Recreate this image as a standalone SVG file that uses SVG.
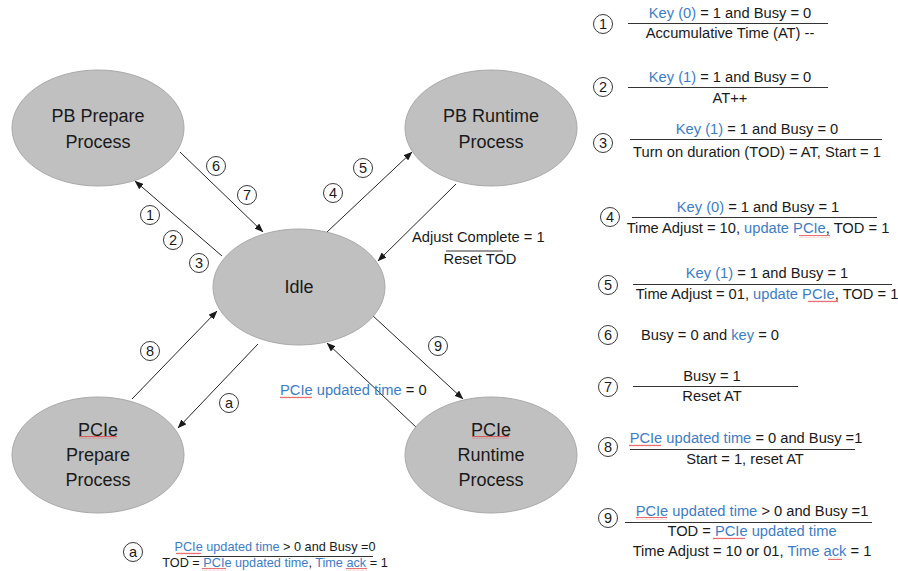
<svg xmlns="http://www.w3.org/2000/svg" width="898" height="571" viewBox="0 0 898 571">
  <defs>
    <style>
      text { font-family: "Liberation Sans", Arial, sans-serif; fill: #1a1a1a; }
      .state { fill: #c0c0c0; stroke: #a9a9a9; stroke-width: 1; }
      .sname { font-size: 18px; text-anchor: middle; }
      .lbl { font-size: 14.7px; }
      .mid { text-anchor: middle; }
      .sm { font-size: 12.7px; }
      .blue { fill: #3e7dc3; }
      .edge { stroke: #262626; stroke-width: 1; fill: none; marker-end: url(#arrow); }
      .bar { stroke: #333; stroke-width: 1; }
      .num circle { fill: #fff; stroke: #222; stroke-width: 0.9; }
      .num text { font-size: 14.5px; text-anchor: middle; }
      .sq { fill: url(#squiggle); }
    </style>
    <marker id="arrow" markerWidth="9" markerHeight="7" refX="8.5" refY="3.5" orient="auto" markerUnits="userSpaceOnUse">
      <path d="M0,0 L9,3.5 L0,7 Z" fill="#1a1a1a"/>
    </marker>
    <pattern id="squiggle" width="4" height="3" patternUnits="userSpaceOnUse">
      <path d="M0,2.2 L1,0.8 L2,2.2 L3,0.8 L4,2.2" fill="none" stroke="#e03030" stroke-width="0.7"/>
    </pattern>
  </defs>

  <rect width="898" height="571" fill="#fff"/>

  <!-- connectors -->
  <g id="connectors">
    <line class="edge" x1="222" y1="256" x2="135" y2="181"/>
    <line class="edge" x1="180" y1="152" x2="263" y2="232"/>
    <line class="edge" x1="327" y1="232" x2="412" y2="152"/>
    <line class="edge" x1="456" y1="184" x2="378" y2="261"/>
    <line class="edge" x1="132" y1="399" x2="217" y2="311"/>
    <line class="edge" x1="258" y1="344" x2="178" y2="428"/>
    <line class="edge" x1="372" y1="315" x2="463" y2="399"/>
    <line class="edge" x1="417" y1="428" x2="327" y2="343"/>

    <!-- transition labels on edges -->
    <text class="lbl" x="412" y="242">Adjust Complete = 1</text>
    <line class="bar" x1="446" y1="251" x2="503" y2="251"/>
    <text class="lbl mid" x="480" y="264">Reset TOD</text>
    <text class="lbl" x="280" y="395"><tspan class="blue">PCIe updated time</tspan> = 0</text>
    <rect class="sq" x="280" y="396" width="32" height="3"/>
  </g>

  <!-- states -->
  <g id="pb-prepare">
    <ellipse class="state" cx="98" cy="128" rx="86" ry="58"/>
    <text class="sname" x="98" y="122">PB Prepare</text>
    <text class="sname" x="98" y="148">Process</text>
  </g>
  <g id="pb-runtime">
    <ellipse class="state" cx="491" cy="128" rx="86" ry="58"/>
    <text class="sname" x="491" y="122">PB Runtime</text>
    <text class="sname" x="491" y="148">Process</text>
  </g>
  <g id="idle">
    <ellipse class="state" cx="299" cy="287" rx="86" ry="58"/>
    <text class="sname" x="299" y="293">Idle</text>
  </g>
  <g id="pcie-prepare">
    <ellipse class="state" cx="98" cy="455" rx="86" ry="58"/>
    <text class="sname" x="98" y="436">PCIe</text>
    <rect class="sq" x="79" y="436" width="38" height="3"/>
    <text class="sname" x="98" y="461">Prepare</text>
    <text class="sname" x="98" y="486">Process</text>
  </g>
  <g id="pcie-runtime">
    <ellipse class="state" cx="491" cy="455" rx="86" ry="58"/>
    <text class="sname" x="491" y="436">PCIe</text>
    <rect class="sq" x="472" y="436" width="37" height="3"/>
    <text class="sname" x="491" y="461">Runtime</text>
    <text class="sname" x="491" y="486">Process</text>
  </g>

  <!-- circled transition numbers on the edges -->
  <g id="edge-numbers">
    <g class="num"><circle cx="216" cy="166" r="9.5"/><text x="216" y="171">6</text></g>
    <g class="num"><circle cx="247" cy="195" r="9.5"/><text x="247" y="200">7</text></g>
    <g class="num"><circle cx="150" cy="215" r="9.5"/><text x="150" y="220">1</text></g>
    <g class="num"><circle cx="173" cy="240" r="9.5"/><text x="173" y="245">2</text></g>
    <g class="num"><circle cx="199" cy="263" r="9.5"/><text x="199" y="268">3</text></g>
    <g class="num"><circle cx="363" cy="168" r="9.5"/><text x="363" y="173">5</text></g>
    <g class="num"><circle cx="333" cy="193" r="9.5"/><text x="333" y="198">4</text></g>
    <g class="num"><circle cx="150" cy="351" r="9.5"/><text x="150" y="356">8</text></g>
    <g class="num"><circle cx="229" cy="403" r="9.5"/><text x="229" y="408">a</text></g>
    <g class="num"><circle cx="438" cy="346" r="9.5"/><text x="438" y="351">9</text></g>
  </g>

  <!-- legend of transition conditions / actions -->
  <g id="legend">
    <g class="num"><circle cx="603" cy="24" r="9.5"/><text x="603" y="29">1</text></g>
    <text class="lbl mid" x="730" y="18"><tspan class="blue">Key (0)</tspan> = 1 and Busy = 0</text>
    <line class="bar" x1="628" y1="23.5" x2="828" y2="23.5"/>
    <text class="lbl mid" x="730" y="38">Accumulative Time (AT) --</text>

    <g class="num"><circle cx="603" cy="87" r="9.5"/><text x="603" y="92">2</text></g>
    <text class="lbl mid" x="730" y="82"><tspan class="blue">Key (1)</tspan> = 1 and Busy = 0</text>
    <line class="bar" x1="628" y1="87.5" x2="828" y2="87.5"/>
    <text class="lbl mid" x="730" y="103">AT++</text>

    <g class="num"><circle cx="603" cy="143" r="9.5"/><text x="603" y="148">3</text></g>
    <text class="lbl mid" x="757" y="134"><tspan class="blue">Key (1)</tspan> = 1 and Busy = 0</text>
    <line class="bar" x1="630" y1="139.5" x2="882" y2="139.5"/>
    <text class="lbl mid" x="757" y="157">Turn on duration (TOD) = AT, Start = 1</text>

    <g class="num"><circle cx="610" cy="217" r="9.5"/><text x="610" y="222">4</text></g>
    <text class="lbl mid" x="758" y="212"><tspan class="blue">Key (0)</tspan> = 1 and Busy = 1</text>
    <line class="bar" x1="632" y1="217.5" x2="877" y2="217.5"/>
    <text class="lbl mid" x="758" y="233">Time Adjust = 10, <tspan class="blue">update PCIe</tspan>, TOD = 1</text>
    <rect class="sq" x="799" y="235" width="31" height="3"/>

    <g class="num"><circle cx="608" cy="285" r="9.5"/><text x="608" y="290">5</text></g>
    <text class="lbl mid" x="767" y="278"><tspan class="blue">Key (1)</tspan> = 1 and Busy = 1</text>
    <line class="bar" x1="633" y1="284.5" x2="892" y2="284.5"/>
    <text class="lbl mid" x="767" y="299">Time Adjust = 01, <tspan class="blue">update PCIe</tspan>, TOD = 1</text>
    <rect class="sq" x="808" y="300" width="30" height="3"/>

    <g class="num"><circle cx="608" cy="335" r="9.5"/><text x="608" y="340">6</text></g>
    <text class="lbl" x="641" y="340">Busy = 0 and <tspan class="blue">key</tspan> = 0</text>

    <g class="num"><circle cx="608" cy="387" r="9.5"/><text x="608" y="392">7</text></g>
    <text class="lbl mid" x="712" y="381">Busy = 1</text>
    <line class="bar" x1="633" y1="386.5" x2="798" y2="386.5"/>
    <text class="lbl mid" x="712" y="401">Reset AT</text>

    <g class="num"><circle cx="608" cy="447" r="9.5"/><text x="608" y="452">8</text></g>
    <text class="lbl mid" x="746" y="443"><tspan class="blue">PCIe updated time</tspan> = 0 and Busy =1</text>
    <rect class="sq" x="629" y="444" width="32" height="3"/>
    <line class="bar" x1="630" y1="449.5" x2="855" y2="449.5"/>
    <text class="lbl mid" x="745" y="464">Start = 1, reset AT</text>

    <g class="num"><circle cx="608" cy="518" r="9.5"/><text x="608" y="523">9</text></g>
    <text class="lbl mid" x="752" y="516"><tspan class="blue">PCIe updated time</tspan> &gt; 0 and Busy =1</text>
    <rect class="sq" x="636" y="517" width="31" height="3"/>
    <line class="bar" x1="625" y1="522.5" x2="872" y2="522.5"/>
    <text class="lbl mid" x="752" y="536">TOD = <tspan class="blue">PCIe updated time</tspan></text>
    <rect class="sq" x="713" y="537" width="32" height="3"/>
    <text class="lbl mid" x="752" y="556">Time Adjust = 10 or 01, <tspan class="blue">Time ack</tspan> = 1</text>
    <rect class="sq" x="828" y="557" width="14" height="3"/>

    <g class="num"><circle cx="133" cy="552" r="9.5"/><text x="133" y="557">a</text></g>
    <text class="lbl sm mid" x="275" y="551"><tspan class="blue">PCIe updated time</tspan> &gt; 0 and Busy =0</text>
    <rect class="sq" x="176" y="552" width="25" height="3"/>
    <line class="bar" x1="187" y1="556.5" x2="373" y2="556.5"/>
    <text class="lbl sm mid" x="275" y="567">TOD = <tspan class="blue">PCIe updated time</tspan>, <tspan class="blue">Time ack</tspan> = 1</text>
    <rect class="sq" x="202" y="568" width="24" height="3"/>
    <rect class="sq" x="346" y="568" width="21" height="3"/>
  </g>
</svg>
